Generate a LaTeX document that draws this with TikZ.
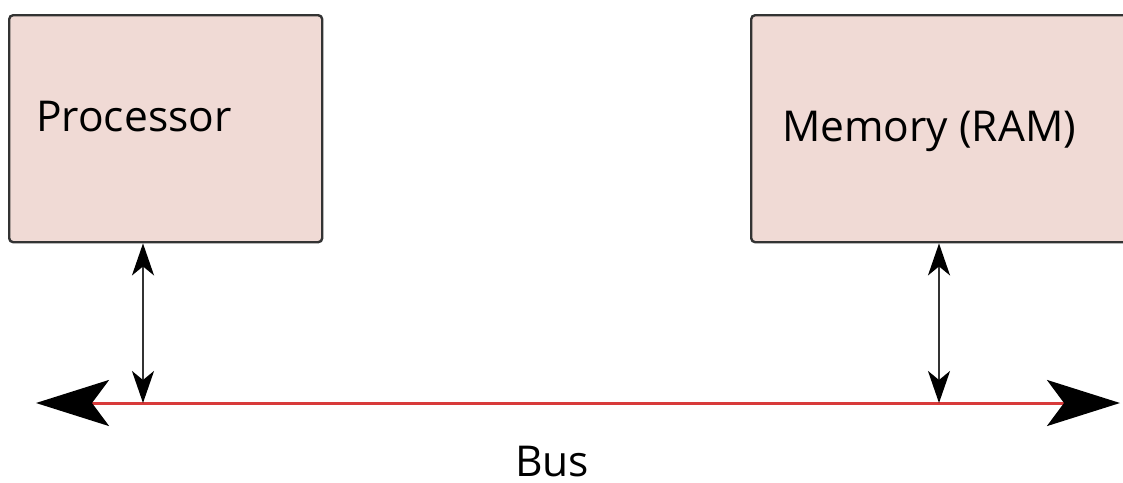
\documentclass[tikz,border=0pt]{standalone}
\usepackage{fontspec}
\setmainfont{Open Sans}
\usetikzlibrary{arrows.meta}
\definecolor{boxfill}{HTML}{F0DAD5}
\definecolor{boxline}{HTML}{333333}
\definecolor{busred}{HTML}{D83A3A}
\tikzset{
  unitbox/.style={draw=boxline, line width=2.4pt, fill=boxfill, rounded corners=4pt,
    inner sep=0pt, anchor=north west},
  boxtext/.style={anchor=base west, inner sep=0pt, font=\fontsize{42.5}{46}\selectfont},
  linkarrow/.style={draw=boxline, line width=2.4pt,
    {Stealth[length=32pt, width=22pt, inset=9pt, color=black]}-{Stealth[length=32pt, width=22pt, inset=9pt, color=black]}},
  busline/.style={draw=busred, line width=3pt,
    {Stealth[length=73pt, width=46pt, inset=17pt, color=black]}-{Stealth[length=73pt, width=46pt, inset=17pt, color=black]}}
}
\begin{document}
\begin{tikzpicture}[x=1pt, y=-1pt]
  \useasboundingbox (0,0) rectangle (1123,482);
  \clip (0,0) rectangle (1123,482);
  % the two units
  \node[unitbox, minimum width=313pt, minimum height=227pt] (proc) at (8,14) {};
  \node[unitbox, minimum width=420pt, minimum height=227pt] (mem) at (750,14) {};
  \node[boxtext] (proclabel) at (36,131) {Processor};
  \node[boxtext] (memlabel) at (782,141) {Memory (RAM)};
  % the bus
  \coordinate (busL) at (36,403);
  \coordinate (busR) at (1120,403);
  \draw[busline] (busL) -- (busR);
  \node[anchor=base, inner sep=0pt, font=\fontsize{42.5}{46}\selectfont] (buslabel) at (552,476) {Bus};
  % taps from the units onto the bus
  \coordinate (tapP) at (143,403);
  \coordinate (tapM) at (939,403);
  \draw[linkarrow] (tapP |- proc.south) -- (tapP);
  \draw[linkarrow] (tapM |- mem.south) -- (tapM);
\end{tikzpicture}
\end{document}
